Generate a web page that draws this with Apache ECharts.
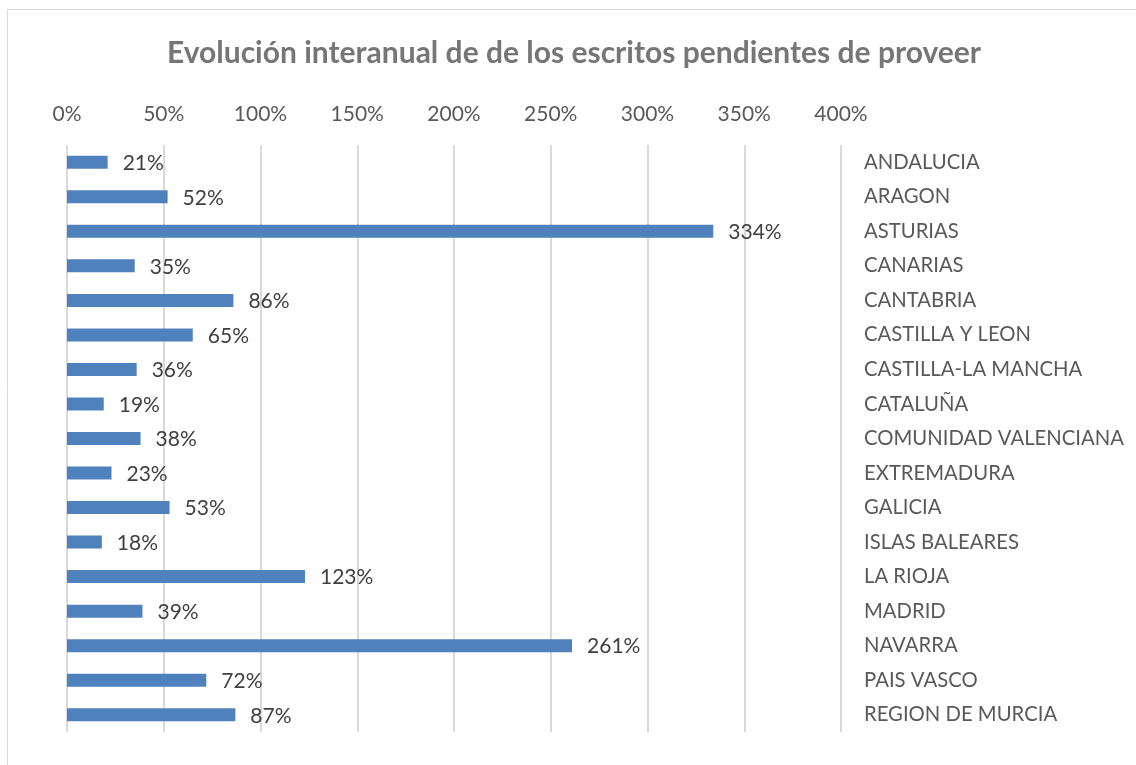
<!DOCTYPE html>
<html>
<head>
<meta charset="utf-8">
<script src="https://cdn.jsdelivr.net/npm/echarts@6/dist/echarts.min.js"></script>
<style>
  html, body { margin: 0; padding: 0; background: #fff; }
  #chart { width: 1136px; height: 765px; }
</style>
</head>
<body>
<div id="chart"></div>
<script>
const regions = ['ANDALUCIA', 'ARAGON', 'ASTURIAS', 'CANARIAS', 'CANTABRIA', 'CASTILLA Y LEON',
  'CASTILLA-LA MANCHA', 'CATALUÑA', 'COMUNIDAD VALENCIANA', 'EXTREMADURA', 'GALICIA',
  'ISLAS BALEARES', 'LA RIOJA', 'MADRID', 'NAVARRA', 'PAIS VASCO', 'REGION DE MURCIA']
const evolucion = [0.21, 0.52, 3.34, 0.35, 0.86, 0.65, 0.36, 0.19, 0.38, 0.23, 0.53, 0.18, 1.23, 0.39, 2.61, 0.72, 0.87]
const xTicks = { min: 0, max: 4, interval: 0.5 }

const font = 'Lato, "Open Sans", sans-serif'
const pct = (v) => Math.round(v * 100) + '%'

const chart = echarts.init(document.getElementById('chart'))
chart.setOption({
  animation: false,
  backgroundColor: '#fff',
  graphic: [{
    type: 'rect',
    shape: { x: 7.5, y: 9.5, width: 1200, height: 800 },
    style: { fill: 'none', stroke: '#d9d9d9', lineWidth: 1 },
    silent: true
  }],
  title: {
    text: 'Evolución interanual de de los escritos pendientes de proveer',
    left: 569,
    textAlign: 'center',
    top: 33,
    textStyle: { fontFamily: font, fontSize: 30, fontWeight: 'bold', color: '#767676' }
  },
  grid: { left: 67, right: 295, top: 145, bottom: 33, containLabel: false },
  xAxis: {
    type: 'value',
    position: 'top',
    min: xTicks.min,
    max: xTicks.max,
    interval: xTicks.interval,
    axisLine: { show: false },
    axisTick: { show: false },
    axisLabel: { formatter: pct, fontFamily: font, fontSize: 21, color: '#595959', margin: 20 },
    splitLine: { lineStyle: { color: '#d9d9d9', width: 2 } }
  },
  yAxis: {
    type: 'category',
    data: regions,
    inverse: true,
    position: 'right',
    axisLine: { show: false },
    axisTick: { show: false },
    axisLabel: { fontFamily: font, fontSize: 20.3, color: '#595959', margin: 23 }
  },
  series: [{
    type: 'bar',
    data: evolucion,
    barWidth: 13,
    itemStyle: { color: '#4f81bd' },
    label: {
      show: true,
      position: 'right',
      distance: 15,
      offset: [0, 1],
      formatter: (p) => pct(p.value),
      fontFamily: font,
      fontSize: 21,
      color: '#404040'
    }
  }]
})
</script>
</body>
</html>
